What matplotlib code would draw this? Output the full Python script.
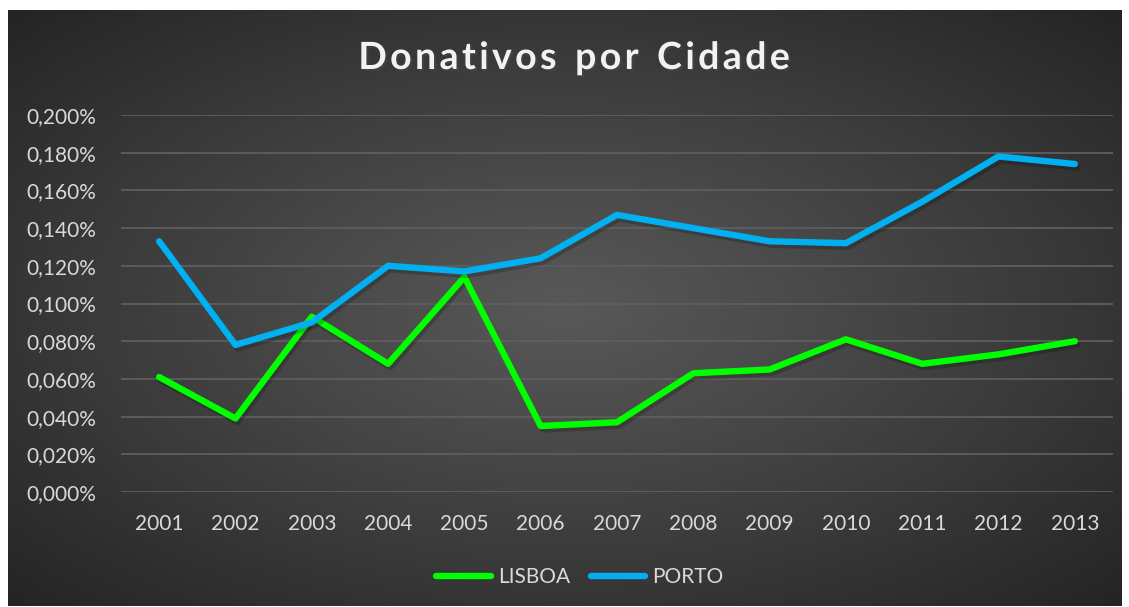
import numpy as np
import matplotlib
matplotlib.use("Agg")
import matplotlib.pyplot as plt
import matplotlib.patheffects as pe
from matplotlib.lines import Line2D

years = ["2001", "2002", "2003", "2004", "2005", "2006", "2007",
         "2008", "2009", "2010", "2011", "2012", "2013"]
lisboa = [0.061, 0.039, 0.093, 0.068, 0.114, 0.035, 0.037,
          0.063, 0.065, 0.081, 0.068, 0.073, 0.080]
porto = [0.133, 0.078, 0.090, 0.120, 0.117, 0.124, 0.147,
         0.140, 0.133, 0.132, 0.154, 0.178, 0.174]
yticks = [0.0, 0.02, 0.04, 0.06, 0.08, 0.10, 0.12, 0.14, 0.16, 0.18, 0.20]
title = "Donativos por Cidade"

W, H = 1129, 607
plt.rcParams['font.family'] = ['Lato', 'DejaVu Sans']
fig = plt.figure(figsize=(W / 100, H / 100), dpi=100, facecolor="white")

# background panel with radial gradient
bx0, by0, bx1, by1 = 8, 10, 1122, 606
bg = fig.add_axes([bx0 / W, 1 - by1 / H, (bx1 - bx0) / W, (by1 - by0) / H])
bg.set_axis_off()
nx, ny = 400, 220
xx, yy = np.meshgrid(np.linspace(-1, 1, nx), np.linspace(-1, 1, ny))
d = np.sqrt(xx ** 2 + yy ** 2) / np.sqrt(2)
d = np.clip(d, 0, 1)
c_in = np.array([0x58, 0x58, 0x58]) / 255
c_out = np.array([0x24, 0x24, 0x24]) / 255
t = d ** 1.1
img = c_in[None, None, :] * (1 - t[..., None]) + c_out[None, None, :] * t[..., None]
bg.imshow(img, aspect="auto", extent=[0, 1, 0, 1], interpolation="bilinear")
bg.set_xlim(0, 1)
bg.set_ylim(0, 1)

# plot axes
px0, px1, py0, py1 = 121, 1113, 115, 492
ax = fig.add_axes([px0 / W, 1 - py1 / H, (px1 - px0) / W, (py1 - py0) / H])
ax.set_facecolor("none")
x = np.arange(len(years))
shadow = [pe.SimpleLineShadow(offset=(1.5, -2.5), shadow_color="black", alpha=0.2), pe.Normal()]
ax.plot(x, lisboa, color="#00FF00", lw=4.6, solid_capstyle="round", solid_joinstyle="round",
        path_effects=shadow, zorder=3, label="LISBOA")
ax.plot(x, porto, color="#00B0F0", lw=4.6, solid_capstyle="round", solid_joinstyle="round",
        path_effects=shadow, zorder=3, label="PORTO")
ax.set_xlim(-0.5, len(years) - 0.5)
ax.set_ylim(0, 0.2)
ax.set_yticks(yticks)
ax.set_yticklabels([("%.3f%%" % v).replace(".", ",") for v in yticks])
ax.set_xticks(x)
ax.set_xticklabels(years)
ax.grid(axis="y", color="#5E5E5E", lw=1.3)
ax.set_axisbelow(True)
for s in ax.spines.values():
    s.set_visible(False)
ax.tick_params(axis="both", length=0, colors="#D9D9D9", labelsize=15)
ax.tick_params(axis="y", pad=18)
ax.tick_params(axis="x", pad=16)

# legend
handles = [Line2D([], [], color="#00FF00", lw=4.6, solid_capstyle="round"),
           Line2D([], [], color="#00B0F0", lw=4.6, solid_capstyle="round")]
leg = fig.legend(handles, ["LISBOA", "PORTO"], loc="center", bbox_to_anchor=(580 / W, 1 - 577 / H),
                 ncol=2, frameon=False, handlelength=2.6, handletextpad=0.35, columnspacing=1.0,
                 fontsize=15)
for txt in leg.get_texts():
    txt.set_color("#D9D9D9")

# title with letter spacing
fig.canvas.draw()
renderer = fig.canvas.get_renderer()
fs = 27
spacing = 3.4  # px
widths = []
for ch in title:
    tt = fig.text(0, 0, ch if ch != " " else "n", fontsize=fs, fontweight="bold")
    bb = tt.get_window_extent(renderer)
    widths.append(bb.width if ch != " " else bb.width * 0.55)
    tt.remove()
total = sum(widths) + spacing * (len(title) - 1)
cx = 574
xpos = cx - total / 2
for ch, w in zip(title, widths):
    if ch != " ":
        fig.text(xpos / W, 1 - 58 / H, ch, fontsize=fs, fontweight="bold", color="#F2F2F2",
                 ha="left", va="center",
                 path_effects=[pe.SimplePatchShadow(offset=(1.5, -1.5), alpha=0.5), pe.Normal()])
    xpos += w + spacing

fig.savefig("out.png", dpi=100, facecolor="white")
